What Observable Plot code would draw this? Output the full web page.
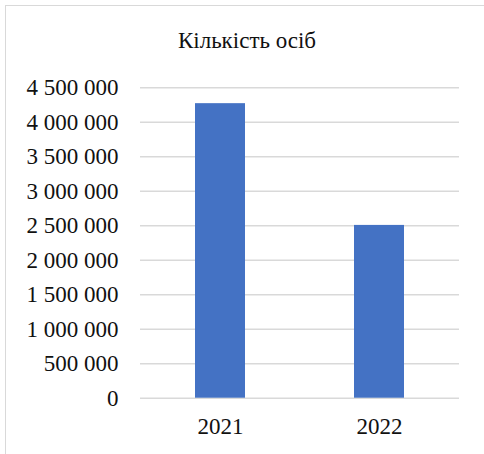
<!DOCTYPE html>
<html>
<head>
<meta charset="utf-8">
<script src="https://cdn.jsdelivr.net/npm/d3@7"></script>
<script src="https://cdn.jsdelivr.net/npm/@observablehq/plot@0.6"></script>
<style>
  html, body { margin: 0; padding: 0; background: #fff; overflow: hidden; width: 484px; height: 454px; }
  #frame { position: absolute; left: 5px; top: 5px; width: 520px; height: 520px; border: 1.5px solid #d9d9d9; box-sizing: border-box; }
  #wrap { position: absolute; left: 0; top: 0; width: 484px; }
  #title { height: 60px; box-sizing: border-box; padding-top: 29px; padding-left: 10px; text-align: center; font-family: "Liberation Serif", Tinos, "Times New Roman", "DejaVu Serif", serif; font-size: 23px; line-height: 23px; color: #111; }
  svg text { font-family: "Liberation Serif", Tinos, "Times New Roman", "DejaVu Serif", serif !important; }
</style>
</head>
<body>
<div id="frame"></div>
<div id="wrap">
  <div id="title">Кількість осіб</div>
  <div id="chart"></div>
</div>
<script>
const years = ["2021", "2022"];
const counts = [4270000, 2505000];
const yTicks = [0, 500000, 1000000, 1500000, 2000000, 2500000, 3000000, 3500000, 4000000, 4500000];

const data = years.map((y, i) => ({year: y, count: counts[i]}));
const fmt = v => d3.format(",")(v).replace(/,/g, " ");
const serif = "'Liberation Serif', Tinos, 'Times New Roman', 'DejaVu Serif', serif";

const chart = Plot.plot({
  width: 484,
  height: 394,
  marginTop: 27.3,
  marginBottom: 56.3,
  marginLeft: 140,
  marginRight: 25,
  style: { fontFamily: serif, fontSize: "23px", color: "#111", background: "transparent", overflow: "visible" },
  x: { domain: years, paddingInner: 0.6865, paddingOuter: 0.343, align: 0.5, label: null },
  y: { domain: [0, 4500000], label: null },
  marks: [
    Plot.gridY(yTicks, { stroke: "#d9d9d9", strokeOpacity: 1, strokeWidth: 1.5 }),
    Plot.barY(data, { x: "year", y: "count", fill: "#4472C4" }),
    Plot.axisX({ tickSize: 0, tickPadding: 19, fontSize: 23, fontFamily: serif }),
    Plot.axisY({ ticks: yTicks, tickSize: 0, tickPadding: 22, tickFormat: fmt, fontSize: 23, fontFamily: serif })
  ]
});
document.getElementById("chart").appendChild(chart);
</script>
</body>
</html>
